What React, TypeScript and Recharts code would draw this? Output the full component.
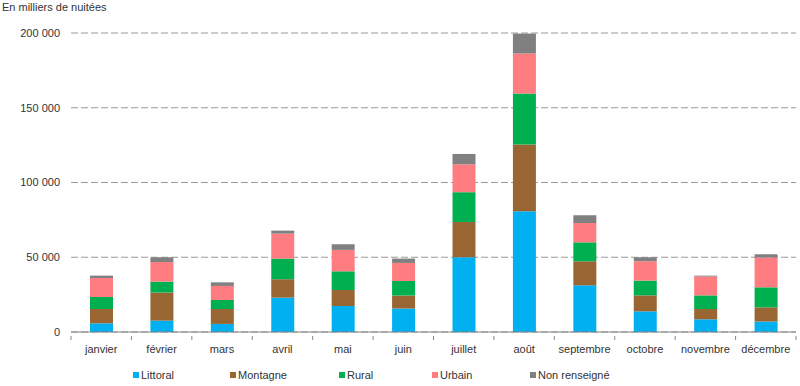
import React from 'react';
import { BarChart, Bar, XAxis, YAxis, CartesianGrid, Legend } from 'recharts';

const months = ['janvier', 'février', 'mars', 'avril', 'mai', 'juin', 'juillet', 'août', 'septembre', 'octobre', 'novembre', 'décembre'];
const littoral = [5800, 7600, 5400, 23000, 17400, 15700, 50000, 80700, 31200, 13800, 8500, 7000];
const montagne = [9600, 18800, 10000, 12300, 10700, 8700, 23600, 44700, 16100, 10700, 6900, 9500];
const rural = [8000, 7300, 6000, 13800, 12500, 9700, 19900, 34100, 12700, 9900, 9100, 13400];
const urbain = [12700, 13100, 9400, 16700, 14300, 12100, 18700, 26800, 12900, 12900, 12600, 19900];
const nonRenseigne = [1600, 3200, 2400, 2000, 3800, 2900, 6900, 13300, 5200, 2700, 600, 2200];
const yTicks = [0, 50000, 100000, 150000, 200000];

const seriesDefs = [
  { key: 'littoral', name: 'Littoral', color: '#00B0F0' },
  { key: 'montagne', name: 'Montagne', color: '#996633' },
  { key: 'rural', name: 'Rural', color: '#00B050' },
  { key: 'urbain', name: 'Urbain', color: '#FF7C80' },
  { key: 'nonRenseigne', name: 'Non renseigné', color: '#808080' },
];

const data = months.map((m, i) => ({
  month: m,
  littoral: littoral[i],
  montagne: montagne[i],
  rural: rural[i],
  urbain: urbain[i],
  nonRenseigne: nonRenseigne[i],
}));

const FONT = '"Liberation Sans", Arial, sans-serif';
const W = 800;
const H = 386;
const MARGIN = { top: 33, right: 4, left: 0, bottom: 0 };
const Y_WIDTH = 71;
const BAND = (W - MARGIN.right - Y_WIDTH) / months.length;

const fmt = (v: number) => String(v).replace(/\B(?=(\d{3})+(?!\d))/g, ' ');

const XTick = (props: any) => {
  const { x, y, payload, index } = props;
  const half = BAND / 2;
  return (
    <g>
      <line x1={x - half} x2={x - half} y1={y - 4} y2={y} stroke="#868686" strokeWidth={1} />
      {index === months.length - 1 && (
        <line x1={x + half} x2={x + half} y1={y - 4} y2={y} stroke="#868686" strokeWidth={1} />
      )}
      <text x={x} y={y + 13} textAnchor="middle" fontSize={11} fill="#333" fontFamily={FONT}>
        {payload.value}
      </text>
    </g>
  );
};

const legendLefts = [133, 230, 339, 432, 530];

const LegendContent = () => (
  <div style={{ position: 'relative', width: W, height: 16, fontFamily: FONT, fontSize: 11, color: '#333' }}>
    {seriesDefs.map((s, i) => (
      <div key={s.key} style={{ position: 'absolute', left: legendLefts[i], top: 0, display: 'flex', alignItems: 'center', whiteSpace: 'nowrap' }}>
        <span style={{ display: 'inline-block', width: 6, height: 6, background: s.color, marginRight: 2 }} />
        <span>{s.name}</span>
      </div>
    ))}
  </div>
);

export default function App() {
  return (
    <div style={{ position: 'absolute', left: 0, top: 0, width: W, height: H, background: '#fff', fontFamily: FONT }}>
      <div style={{ position: 'absolute', left: 2, top: 1, fontSize: 11, color: '#333', fontFamily: FONT }}>
        En milliers de nuitées
      </div>
      <BarChart width={W} height={H} data={data} margin={MARGIN}>
        <CartesianGrid vertical={false} stroke="#9a9a9a" strokeDasharray="7 3" />
        <XAxis
          dataKey="month"
          height={38}
          axisLine={{ stroke: '#868686' }}
          tickLine={false}
          tick={<XTick />}
          interval={0}
        />
        <YAxis
          width={Y_WIDTH}
          domain={[0, 200000]}
          ticks={yTicks}
          tickFormatter={fmt}
          axisLine={false}
          tickLine={false}
          tickMargin={5}
          tick={{ fontSize: 11, fill: '#333', fontFamily: FONT }}
        />
        <Legend
          content={<LegendContent />}
          wrapperStyle={{ position: 'absolute', top: 369, left: 0, width: W, height: 16 }}
          height={0}
        />
        {seriesDefs.map((s) => (
          <Bar
            key={s.key}
            dataKey={s.key}
            name={s.name}
            stackId="a"
            fill={s.color}
            barSize={23}
            isAnimationActive={false}
          />
        ))}
      </BarChart>
    </div>
  );
}
